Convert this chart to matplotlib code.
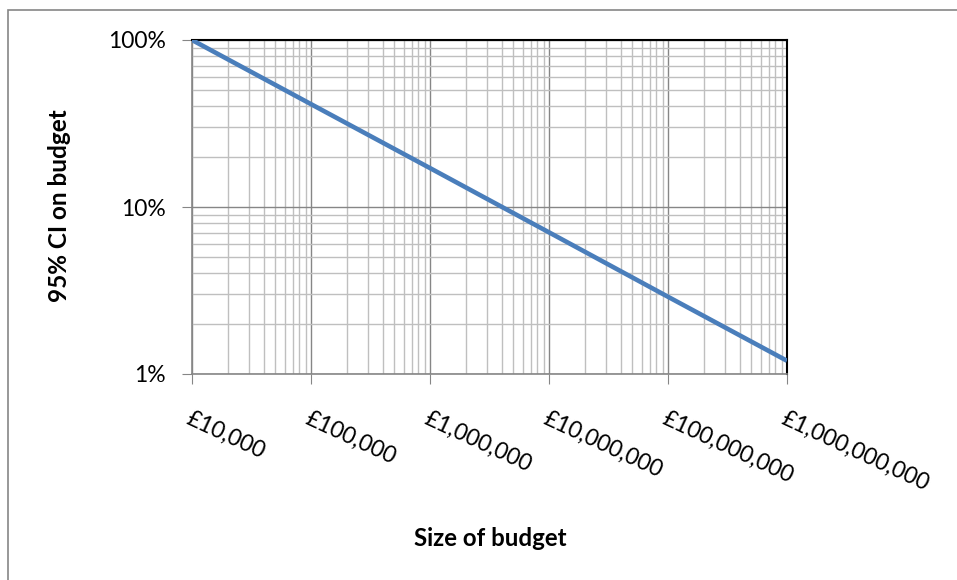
import matplotlib
matplotlib.use("Agg")
import matplotlib.pyplot as plt
from matplotlib.patches import Rectangle
from matplotlib.ticker import LogLocator, NullFormatter

# Budget sizes (GBP) and the 95% confidence interval as a fraction of budget
budget = [1e4, 1e5, 1e6, 1e7, 1e8, 1e9]
ci = [1.00, 0.413, 0.171, 0.0705, 0.029, 0.012]

x_ticks = [1e4, 1e5, 1e6, 1e7, 1e8, 1e9]
x_labels = ["£10,000", "£100,000", "£1,000,000", "£10,000,000",
            "£100,000,000", "£1,000,000,000"]
y_ticks = [0.01, 0.1, 1.0]
y_labels = ["1%", "10%", "100%"]

plt.rcParams["font.family"] = ["Lato", "DejaVu Sans"]

fig = plt.figure(figsize=(9.57, 5.8), dpi=100)
ax = fig.add_axes([192 / 957, 1 - 374 / 580, 595 / 957, 334 / 580])

# chart border
fig.patches.append(Rectangle((8 / 957, -0.05), 1.1, 1 - 10 / 580 + 0.05,
                             transform=fig.transFigure, fill=False,
                             edgecolor="#868686", linewidth=1.2))

ax.plot(budget, ci, color="#4a7ebb", linewidth=3.3, solid_capstyle="butt", zorder=3)

ax.set_xscale("log")
ax.set_yscale("log")
ax.set_xlim(1e4, 1e9)
ax.set_ylim(0.01, 1.0)

ax.xaxis.set_minor_locator(LogLocator(base=10, subs=range(2, 10)))
ax.yaxis.set_minor_locator(LogLocator(base=10, subs=range(2, 10)))
ax.xaxis.set_minor_formatter(NullFormatter())
ax.yaxis.set_minor_formatter(NullFormatter())

ax.set_xticks(x_ticks)
ax.set_xticklabels(x_labels, fontsize=16.5, rotation=-25, ha="left", va="top",
                   rotation_mode="anchor")
ax.set_yticks(y_ticks)
ax.set_yticklabels(y_labels, fontsize=16.5)

ax.grid(which="minor", color="#bfbfbf", linewidth=1.0)
ax.grid(which="major", color="#868686", linewidth=1.0)
ax.set_axisbelow(True)

ax.tick_params(axis="x", which="major", direction="out", length=7,
               color="#868686", pad=17)
ax.tick_params(axis="y", which="major", direction="out", length=7,
               color="#868686", pad=12)
ax.tick_params(which="minor", length=0)

for side in ["left", "bottom"]:
    ax.spines[side].set_color("#868686")
    ax.spines[side].set_linewidth(1.2)
for side in ["top", "right"]:
    ax.spines[side].set_color("black")
    ax.spines[side].set_linewidth(1.5)

fig.text(60 / 957, 1 - 206 / 580, "95% CI on budget", rotation=90,
         fontsize=17.5, fontweight="bold", ha="center", va="center")
fig.text(490 / 957, 1 - 538 / 580, "Size of budget",
         fontsize=17.3, fontweight="bold", ha="center", va="center")

fig.savefig("out.png", dpi=100)
